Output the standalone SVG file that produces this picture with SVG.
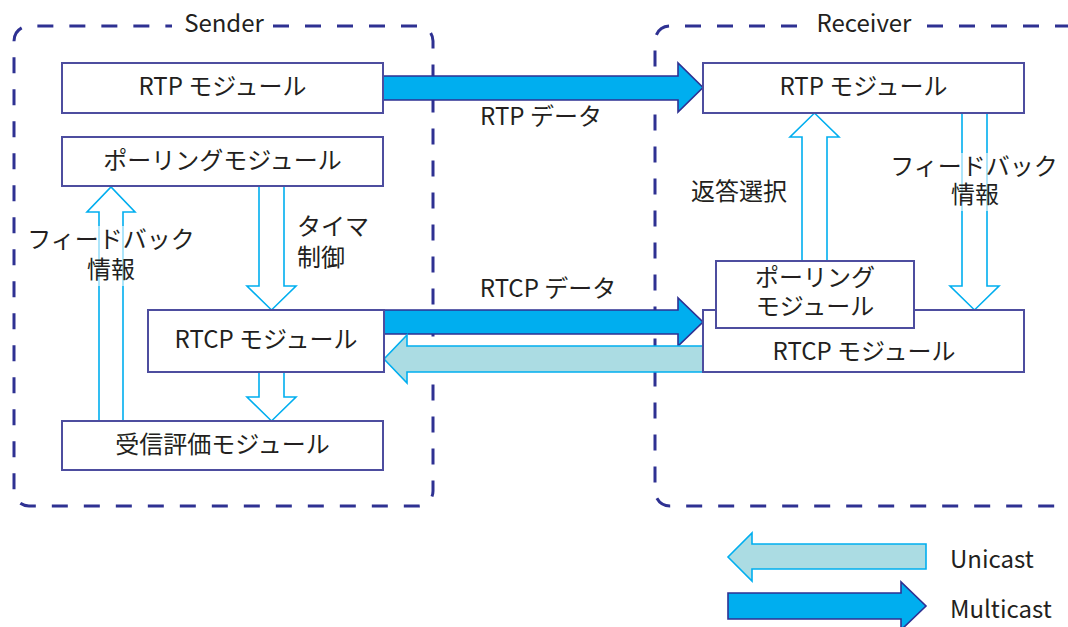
<svg xmlns="http://www.w3.org/2000/svg" width="1068" height="627" viewBox="0 0 1068 627">
  <style>
    text { font-family: "Noto Sans CJK JP", "Open Sans", sans-serif; font-size: 24px; fill: #231f20; }
    .mid { text-anchor: middle; }
    .box { fill: #ffffff; stroke: #4d4d9f; stroke-width: 2; }
    .zone { fill: none; stroke: #2e3192; stroke-width: 3; stroke-dasharray: 16 16; }
    .hollow { fill: #ffffff; stroke: #00aeef; stroke-width: 1.6; }
    .multi { fill: #00aeef; stroke: #2e3192; stroke-width: 1.6; }
    .uni { fill: #abdce3; stroke: #00aeef; stroke-width: 1.6; }
    .veil { fill: #ffffff; opacity: 0.6; }
  </style>

  <!-- sender / receiver boundaries -->
  <g id="sender-zone">
    <path class="zone" d="M 273 26 H 418 A 15 15 0 0 1 433 41 V 491 A 15 15 0 0 1 418 506 H 29 A 15 15 0 0 1 14 491 V 41 A 15 15 0 0 1 29 26 H 172"/>
    <text class="mid" x="224" y="32">Sender</text>
  </g>
  <g id="receiver-zone">
    <path class="zone" d="M 797 26 H 670 A 15 15 0 0 0 655 41 V 491 A 15 15 0 0 0 670 506 H 1090"/>
    <path class="zone" d="M 927 26 H 1090"/>
    <text class="mid" x="864" y="32">Receiver</text>
  </g>

  <!-- connectors -->
  <g id="connectors">
    <!-- sender: feedback up to polling -->
    <polygon class="hollow" points="99,421 99,212 87,212 111,187 135,212 123,212 123,421"/>
    <!-- sender: timer control -->
    <polygon class="hollow" points="259,186 259,286 247,286 271.5,310 296,286 284,286 284,186"/>
    <!-- sender: RTCP to evaluation -->
    <polygon class="hollow" points="259,372 259,397 247,397 271.5,421 296,397 284,397 284,372"/>
    <!-- receiver: reply selection -->
    <polygon class="hollow" points="802,261 802,137 790,137 814.5,113 839,137 827,137 827,261"/>
    <!-- receiver: feedback down to RTCP -->
    <polygon class="hollow" points="962,113 962,286 950,286 974.5,310 999,286 987,286 987,113"/>

    <!-- RTP data (multicast) -->
    <polygon class="multi" points="382,76 678,76 678,63 703,87.5 678,112 678,100 382,100"/>
    <!-- RTCP data (multicast) -->
    <polygon class="multi" points="384,310 678,310 678,298 703,322 678,346 678,334 384,334"/>
    <!-- RTCP reply (unicast) -->
    <polygon class="uni" points="703,346 407,346 407,335 384,359 407,383 407,372 703,372"/>

    <!-- labels -->
    <text class="mid" x="541" y="125">RTP データ</text>
    <text class="mid" x="548" y="297">RTCP データ</text>
    <text x="297" y="235">タイマ</text>
    <text x="297" y="266">制御</text>
    <rect class="veil" x="26" y="226" width="172" height="60"/>
    <text class="mid" x="111" y="248">フィードバック</text>
    <text class="mid" x="111" y="278">情報</text>
    <text x="691" y="200">返答選択</text>
    <rect class="veil" x="888" y="153" width="172" height="58"/>
    <text class="mid" x="974" y="175">フィードバック</text>
    <text class="mid" x="975" y="203">情報</text>
  </g>

  <!-- sender modules -->
  <g id="s-rtp">
    <rect class="box" x="62" y="63" width="321" height="50"/>
    <text class="mid" x="222.5" y="95">RTP モジュール</text>
  </g>
  <g id="s-polling">
    <rect class="box" x="62" y="137" width="321" height="49"/>
    <text class="mid" x="222.5" y="169">ポーリングモジュール</text>
  </g>
  <g id="s-rtcp">
    <rect class="box" x="148" y="310" width="236" height="62"/>
    <text class="mid" x="266" y="348">RTCP モジュール</text>
  </g>
  <g id="s-eval">
    <rect class="box" x="62" y="421" width="321" height="49"/>
    <text class="mid" x="222.5" y="453">受信評価モジュール</text>
  </g>

  <!-- receiver modules -->
  <g id="r-rtp">
    <rect class="box" x="703" y="63" width="321" height="50"/>
    <text class="mid" x="863.5" y="95">RTP モジュール</text>
  </g>
  <g id="r-rtcp">
    <rect class="box" x="703" y="310" width="321" height="62"/>
    <text class="mid" x="864" y="360">RTCP モジュール</text>
  </g>
  <g id="r-polling">
    <rect class="box" x="716" y="261" width="198" height="67"/>
    <text class="mid" x="815" y="286">ポーリング</text>
    <text class="mid" x="815" y="315">モジュール</text>
  </g>

  <!-- legend -->
  <g id="legend">
    <polygon class="uni" points="926,544 752,544 752,533 728,557 752,581 752,569 926,569"/>
    <text x="950" y="568">Unicast</text>
    <polygon class="multi" points="728,593 901,593 901,582 926,606 901,630 901,619 728,619"/>
    <text x="950" y="618">Multicast</text>
  </g>
</svg>
